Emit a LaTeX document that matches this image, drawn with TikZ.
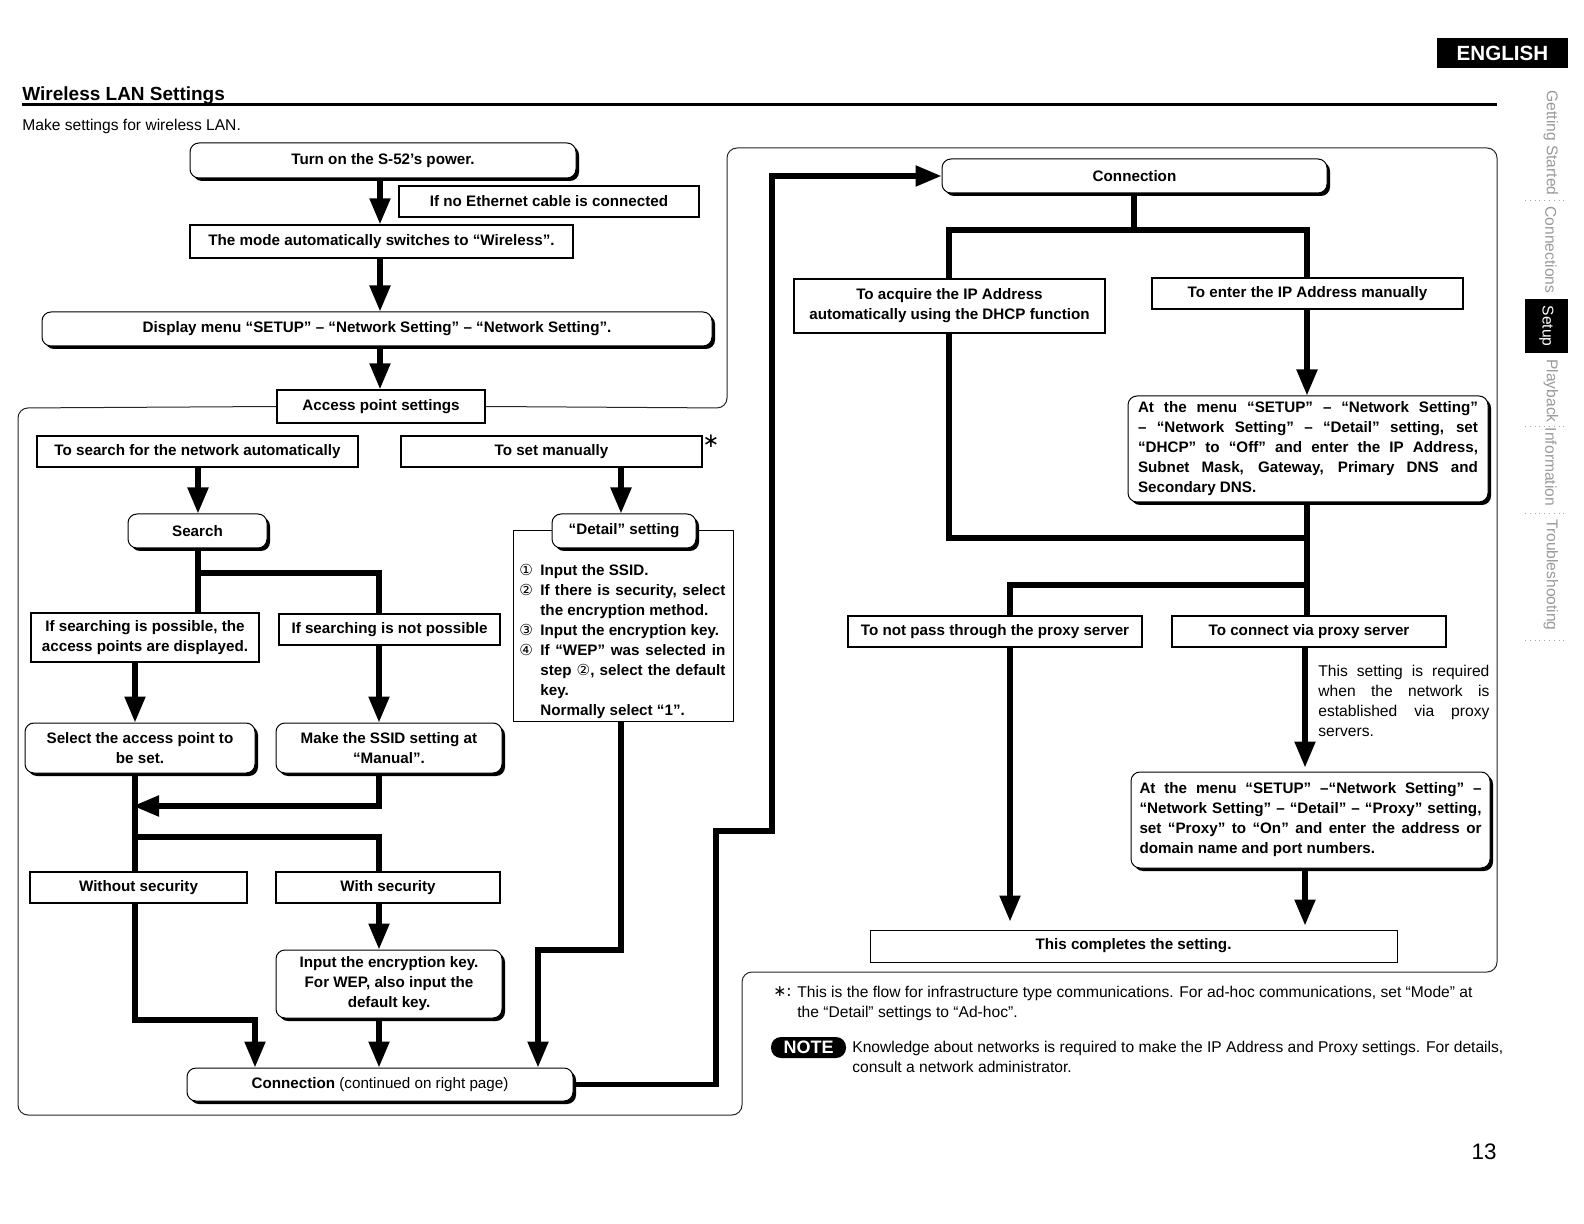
\documentclass[tikz,border=0pt]{standalone}
\usepackage{fontspec}
\setmainfont{Liberation Sans}
\newfontfamily\dejavu{DejaVu Sans}
\usetikzlibrary{arrows.meta,shadows,calc}
\newcommand\bxfont{\fontsize{7.6}{10}\selectfont}
\newcommand\rgfont{\fontsize{7.8}{10}\selectfont}
\newcommand\itm[1]{\par\noindent\hangindent=10.5pt\hangafter=1\makebox[10.5pt][l]{\dejavu\mdseries #1}}
\begin{document}
\begin{tikzpicture}[x=0.5pt,y=-0.5pt,
  corners/.code n args={4}{%
    \pgfmathsetmacro\bxw{(#3-#1)*0.5}%
    \pgfmathsetmacro\bxh{(#4-#2)*0.5}%
    \pgfmathsetmacro\bxx{(#1+#3)/2}%
    \pgfmathsetmacro\bxy{(#2+#4)/2}%
    \edef\bxtmp{\noexpand\tikzset{minimum width=\bxw pt, minimum height=\bxh pt, at={(\bxx,\bxy)}}}\bxtmp},
  box/.style={draw, line width=0.7pt, fill=white, inner sep=0pt, align=center, font=\bfseries\bxfont},
  rbox/.style={box, rounded corners=4.5pt, line width=0.5pt, drop shadow={shadow xshift=1.5pt, shadow yshift=-1.5pt, fill=black, opacity=1}},
  arr/.style={line width=2.6pt, -{Triangle[width=10pt,length=13pt]}},
  wire/.style={line width=2.6pt},
  frame/.style={line width=0.5pt, black!85, rounded corners=5pt},
  txt/.style={inner sep=0pt, font=\rgfont},
]

% header
\node[fill=black, text=white, inner sep=0pt, minimum width=65.5pt, minimum height=15pt, font=\bfseries\fontsize{10.3}{12}\selectfont] (eng) at (1502.5,53) {ENGLISH};
\node[anchor=base west, inner sep=0pt, font=\bfseries\fontsize{9.5}{11}\selectfont] (title) at (22,101) {Wireless LAN Settings};
\draw[line width=1.5pt] (22,105) -- (1497,105);
\node[anchor=base west, inner sep=0pt, font=\rgfont] (sub) at (22,131) {Make settings for wireless LAN.};

% side tabs
\foreach \t/\y/\n in {Getting Started/143/a, Connections/250/b, Playback/391/c, Information/467/d, Troubleshooting/575/e}
  \node[rotate=-90, text=black!40, font=\rgfont, inner sep=0pt] (tab\n) at (1551,\y) {\t};
\node[fill=black, text=white, rotate=-90, inner sep=0pt, minimum width=27pt, minimum height=21.5pt, font=\rgfont] (tabsetup) at (1546.5,326) {Setup};
\foreach \y in {200,426,513,640}
  \draw[black!35, dotted, line width=0.4pt] (1525,\y) -- (1568,\y);

% lanes and junctions
\coordinate (xa) at (380,0);
\coordinate (xb) at (198,0);
\coordinate (xc) at (379,0);
\coordinate (xd) at (135,0);
\coordinate (xe) at (255,0);
\coordinate (xf) at (621,0);
\coordinate (xg) at (538,0);
\coordinate (xh) at (716,0);
\coordinate (xi) at (772,0);
\coordinate (xj) at (1134,0);
\coordinate (xk) at (949,0);
\coordinate (xl) at (1307,0);
\coordinate (xm) at (1010,0);
\coordinate (xn) at (1305,0);
\coordinate (ya) at (0,573);
\coordinate (yb) at (0,806);
\coordinate (yc) at (0,837);
\coordinate (yd) at (0,1020);
\coordinate (ye) at (0,950);
\coordinate (yg) at (0,831);
\coordinate (yh) at (0,230);
\coordinate (yi) at (0,538);
\coordinate (yj) at (0,585);

% left page nodes
\node[rbox, corners={190}{143}{576}{178}] (n1) {Turn on the S-52’s power.};
\node[box, corners={399}{186}{699}{217}] (eth) {If no Ethernet cable is connected};
\node[box, corners={190}{225}{573}{258}] (mode) {The mode automatically switches to “Wireless”.};
\node[rbox, corners={42}{312}{712}{346}] (disp) {Display menu “SETUP” – “Network Setting” – “Network Setting”.};
\node[box, corners={277}{390}{485}{423}] (ap) {Access point settings};
\node[box, corners={37}{436}{358}{467}] (srch) {To search for the network automatically};
\node[box, corners={401}{436}{702}{467}] (man) {To set manually};
\node[inner sep=0pt, font=\dejavu\fontsize{10}{10}\selectfont] (star) at (711,441) {∗};
\node[rbox, corners={128}{514}{267}{548}] (search) {Search};
\node[box, corners={31}{613}{259}{662}] (poss) {If searching is possible, the\\access points are displayed.};
\node[box, corners={279}{614}{500}{645}] (notp) {If searching is not possible};
\node[rbox, corners={25}{723}{255}{773}] (sel) {Select the access point to\\be set.};
\node[rbox, corners={276}{723}{502}{773}] (ssid) {Make the SSID setting at\\“Manual”.};
\node[box, corners={30}{872}{247}{903}] (wo) {Without security};
\node[box, corners={276}{872}{500}{903}] (wi) {With security};
\node[rbox, corners={276}{950}{502}{1018}] (enc) {Input the encryption key.\\For WEP, also input the\\default key.};
\node[rbox, corners={187}{1068}{573}{1101}] (conn) {Connection {\mdseries (continued on right page)}};
\node[box, line width=0.5pt, corners={513}{531}{733}{721}] (detbox) {};
\node[rbox, corners={552}{514}{696}{548}] (det) {“Detail” setting};
\node[inner sep=0pt, anchor=north west, text width=103pt, align=justify, font=\bfseries\bxfont] (dettext) at (519,555) {%
\itm{①}Input the SSID.
\itm{②}If there is security, select\linebreak the encryption method.
\itm{③}Input the encryption key.
\itm{④}If “WEP” was selected in\linebreak step {\dejavu\mdseries ②}, select the default\linebreak key.\newline Normally select “1”.\par};

% right page nodes
\node[rbox, corners={942}{159}{1327}{193}] (rconn) {Connection};
\node[box, corners={794}{279}{1105}{333}] (dhcp) {To acquire the IP Address\\automatically using the DHCP function};
\node[box, corners={1152}{278}{1463}{309}] (ipman) {To enter the IP Address manually};
\node[rbox, corners={1128}{396}{1488}{502}, text width=170pt, align=justify] (atm1) {\noindent At the menu “SETUP” – “Network Setting”\linebreak – “Network Setting” – “Detail” setting, set\linebreak “DHCP” to “Off” and enter the IP Address,\linebreak Subnet Mask, Gateway, Primary DNS and\linebreak Secondary DNS.\par};
\node[box, corners={848}{616}{1142}{647}] (np) {To not pass through the proxy server};
\node[box, corners={1172}{616}{1446}{647}] (vp) {To connect via proxy server};
\node[txt, anchor=north west, text width=85.5pt, align=justify] (pnote) at (1318,665) {\noindent This setting is required\linebreak when the network is\linebreak established via proxy\linebreak servers.\par};
\node[rbox, corners={1131}{772}{1490}{868}, text width=171pt, align=justify] (atm2) {\noindent At the menu “SETUP” –“Network Setting” –\linebreak “Network Setting” – “Detail” – “Proxy” setting,\linebreak set “Proxy” to “On” and enter the address or\linebreak domain name and port numbers.\par};
\node[box, line width=0.5pt, corners={870}{930}{1397}{962}] (done) {This completes the setting.};

% notes
\node[inner sep=0pt, anchor=west, font=\dejavu\rgfont] (nstar) at (773,992) {∗:};
\node[txt, anchor=north west, align=left] (ntext) at (797,986) {This is the flow for infrastructure type communications. For ad-hoc communications, set “Mode” at\\the “Detail” settings to “Ad-hoc”.};
\node[fill=black, text=white, rounded corners=5pt, inner sep=0pt, minimum width=37.5pt, minimum height=10.5pt, font=\bfseries\fontsize{9}{9}\selectfont] (note) at (808.5,1047.5) {NOTE};
\node[txt, anchor=north west, align=left] (ktext) at (852,1041) {Knowledge about networks is required to make the IP Address and Proxy settings. For details,\\consult a network administrator.};
\node[anchor=base, inner sep=0pt, font=\fontsize{11.2}{12}\selectfont] (pg) at (1484,1159) {13};

% frame
\draw[frame] (ap.west) -- (18,408) -- (18,1115) -- (742,1115) -- (742,972) -- (1497,972) -- (1497,148) -- (727,148) -- (727,408) -- (ap.east);

% connectors left
\draw[arr] (n1.south -| xa) -- (mode.north -| xa);
\draw[arr] (mode.south -| xa) -- (disp.north -| xa);
\draw[arr] (disp.south -| xa) -- (ap.north -| xa);
\draw[arr] (srch.south -| xb) -- (search.north -| xb);
\draw[wire] (search.south -| xb) -- (poss.north -| xb);
\draw[wire] (xb |- ya) -| (notp.north -| xc);
\draw[arr] (poss.south -| xd) -- (sel.north -| xd);
\draw[arr] (notp.south -| xc) -- (ssid.north -| xc);
\draw[wire] (sel.south -| xd) -- (wo.north -| xd);
\draw[arr, shorten >=-1pt] (ssid.south -| xc) |- (xd |- yb);
\draw[wire] (xd |- yc) -| (wi.north -| xc);
\draw[arr] (wi.south -| xc) -- (enc.north -| xc);
\draw[arr] (enc.south -| xc) -- (conn.north -| xc);
\draw[arr] (wo.south -| xd) |- (xe |- yd) -- (conn.north -| xe);
\draw[arr] (man.south -| xf) -- (det.north -| xf);
\draw[arr] (detbox.south -| xf) |- (xg |- ye) -- (conn.north -| xg);
\draw[arr] (conn.east) -| (xh |- yg) -| (xi |- rconn.west) -- (rconn.west);

% connectors right
\draw[wire] (rconn.south -| xj) -- (xj |- yh);
\draw[wire] (dhcp.north -| xk) |- (xl |- yh) -- (ipman.north -| xl);
\draw[arr] (ipman.south -| xl) -- (atm1.north -| xl);
\draw[wire] (dhcp.south -| xk) |- (xl |- yi);
\draw[wire] (atm1.south -| xl) -- (vp.north -| xl);
\draw[wire] (xl |- yj) -| (np.north -| xm);
\draw[arr, shorten >=4pt] (np.south -| xm) -- (done.north -| xm);
\draw[arr, shorten >=2pt] (vp.south -| xn) -- (atm2.north -| xn);
\draw[arr, shorten >=2pt] (atm2.south -| xn) -- (done.north -| xn);

\pgfresetboundingbox
\useasboundingbox (0,0) rectangle (1584,1224);
\end{tikzpicture}
\end{document}
